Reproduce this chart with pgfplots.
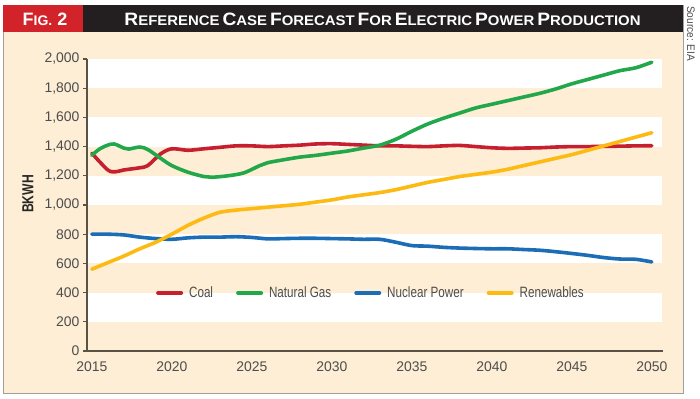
\documentclass[border=0pt]{standalone}
\usepackage{pgfplots}
\pgfplotsset{compat=1.18}
\usepackage{fontspec}
\setmainfont{Liberation Sans}
\newfontfamily\fLeg{Liberation Sans}[FakeStretch=0.78]
\newfontfamily\fB{Liberation Sans}[FakeStretch=0.76]
\newfontfamily\fS{Liberation Sans}[FakeStretch=0.92]
\newfontfamily\fT{Liberation Sans}[FakeStretch=1.07]
\definecolor{beige}{HTML}{FDEED5}
\definecolor{headblack}{HTML}{231F20}
\definecolor{figred}{HTML}{D2232A}
\definecolor{coal}{HTML}{C61F2F}
\definecolor{gas}{HTML}{22A84A}
\definecolor{nuc}{HTML}{1B6DB6}
\definecolor{ren}{HTML}{FDBA12}
\definecolor{axiscol}{HTML}{5A5244}
\definecolor{ticktext}{HTML}{4D4D4D}
\newcommand\SC[2]{{\fontsize{18}{18}\selectfont #1}{\fontsize{14}{14}\selectfont #2}}
\begin{document}
\begin{tikzpicture}
\useasboundingbox (0bp,0bp) rectangle (700bp,-399bp);
\fill[white] (0bp,0bp) rectangle (700bp,-399bp);
% panel
\filldraw[fill=beige, draw=gray!75, line width=0.8bp] (3bp,-5bp) rectangle (683bp,-393bp);
\fill[headblack] (3bp,-5bp) rectangle (683bp,-31.5bp);
\fill[figred] (3bp,-5bp) rectangle (83bp,-31.5bp);
\node[text=white, inner sep=0, anchor=base] at (45bp,-25bp) {\bfseries\SC{F}{IG.}\fontsize{18}{18}\selectfont\ 2};
\node[text=white, inner sep=0, anchor=base] at (382.5bp,-25bp) {\fT\bfseries\SC{R}{EFERENCE} \SC{C}{ASE} \SC{F}{ORECAST} \SC{F}{OR} \SC{E}{LECTRIC} \SC{P}{OWER} \SC{P}{RODUCTION}};
\node[rotate=-90, anchor=west, inner sep=0, text=ticktext] at (691bp,-6bp) {\fS\fontsize{11}{11}\selectfont Source: EIA};
\node[rotate=90, inner sep=0, text=black!85] at (28bp,-194bp) {\fB\bfseries\fontsize{16}{16}\selectfont BKWH};
% bands
\foreach \yt/\yb in {59/88.2, 117.4/146.6, 175.8/205, 234.2/263.4, 292.6/321.8}
  \fill[white] (88bp,-\yt bp) rectangle (662bp,-\yb bp);
\begin{axis}[
  at={(87bp,-351bp)}, anchor=south west,
  scale only axis, width=576bp, height=292bp,
  xmin=2014.7, xmax=2050.7, ymin=0, ymax=2000,
  axis x line*=bottom, axis y line*=left,
  axis line style={-, draw=axiscol, line width=1.3bp},
  xtick={2015,2020,...,2050},
  ytick={0,200,...,2000},
  tick align=outside,
  major tick length=4bp,
  x tick style={draw=none},
  y tick style={draw=axiscol, line width=1.1bp},
  ticklabel style={font=\fontsize{14}{14}\selectfont, text=ticktext},
  /pgf/number format/assume math mode=true,
  xticklabel style={/pgf/number format/1000 sep={}, yshift=-3bp},
  yticklabel style={/pgf/number format/1000 sep={,}},
  clip=false,
  legend columns=4,
  legend style={draw=none, fill=none, at={(0.493,0.199)}, anchor=center,
    font=\fLeg\fontsize{15}{15}\selectfont, text=ticktext,
    /tikz/every odd column/.append style={column sep=4bp},
    /tikz/every even column/.append style={column sep=21bp}},
  legend image code/.code={\draw[#1, line width=4bp, line cap=round] (0bp,0bp) -- (23bp,0bp);},
  every axis plot/.append style={line width=3.6bp, line cap=round, smooth, tension=0.5},
]
\addplot[coal] coordinates {
(2015,1355) (2016,1240) (2016.5,1228) (2017,1240) (2018,1255) (2018.5,1270) (2019.3,1350)
(2020,1385) (2021,1375) (2022,1385) (2023,1395) (2024,1405) (2025,1405) (2026,1400)
(2027,1405) (2028,1410) (2029,1418) (2030,1420) (2031,1415) (2032,1410) (2033,1405)
(2034,1405) (2035,1402) (2036,1400) (2037,1405) (2038,1408) (2039,1400) (2040,1392)
(2041,1388) (2042,1390) (2043,1392) (2044,1397) (2045,1400) (2046,1400) (2047,1402)
(2048,1403) (2049,1405) (2050,1406)};
\addlegendentry{Coal}
\addplot[gas] coordinates {
(2015,1340) (2015.5,1385) (2016,1410) (2016.4,1418) (2017,1390) (2017.3,1383) (2018,1397)
(2018.5,1380) (2019.3,1320) (2020,1270) (2021,1225) (2022,1195) (2022.5,1190) (2023.5,1200)
(2024.5,1220) (2025.5,1270) (2026,1290) (2027,1310) (2028,1328) (2029,1340) (2030,1355)
(2031,1370) (2032,1390) (2033,1410) (2034,1450) (2035,1505) (2036,1555) (2037,1595)
(2038,1630) (2039,1665) (2040,1690) (2041,1715) (2042,1740) (2043,1765) (2044,1795)
(2045,1830) (2046,1860) (2047,1890) (2048,1920) (2049,1940) (2050,1978)};
\addlegendentry{Natural Gas}
\addplot[nuc] coordinates {
(2015,800) (2016,800) (2017,795) (2018,780) (2019,770) (2020,765) (2021,775) (2022,780)
(2023,780) (2024,783) (2025,778) (2026,768) (2027,770) (2028,772) (2029,772) (2030,770)
(2031,768) (2032,765) (2033,765) (2034,745) (2035,722) (2036,718) (2037,710) (2038,705)
(2039,702) (2040,700) (2041,700) (2042,695) (2043,690) (2044,680) (2045,668) (2046,655)
(2047,640) (2048,630) (2049,628) (2050,610)};
\addlegendentry{Nuclear Power}
\addplot[ren] coordinates {
(2015,560) (2016,605) (2017,650) (2018,700) (2019,745) (2020,800) (2021,860) (2022,910)
(2023,950) (2024,965) (2025,975) (2026,985) (2027,995) (2028,1005) (2029,1020) (2030,1035)
(2031,1055) (2032,1070) (2033,1085) (2034,1105) (2035,1130) (2036,1155) (2037,1175)
(2038,1195) (2039,1210) (2040,1225) (2041,1245) (2042,1270) (2043,1295) (2044,1320)
(2045,1345) (2046,1375) (2047,1405) (2048,1435) (2049,1465) (2050,1495)};
\addlegendentry{Renewables}
\end{axis}
\end{tikzpicture}
\end{document}
